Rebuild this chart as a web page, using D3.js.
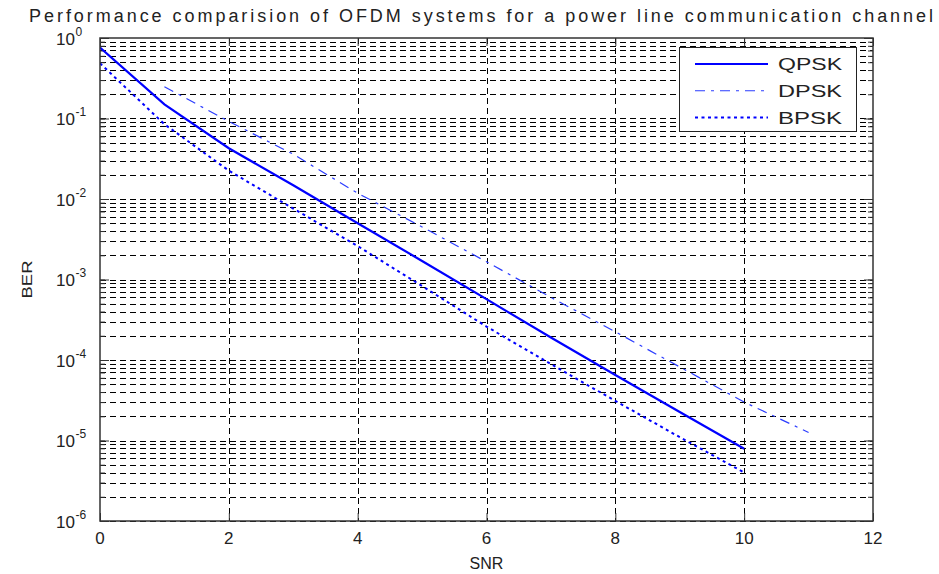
<!DOCTYPE html>
<html>
<head>
<meta charset="utf-8">
<script src="https://cdn.jsdelivr.net/npm/d3@7"></script>
<style>
  body { margin: 0; background: #fff; }
  svg { display: block; }
</style>
</head>
<body>
<div id="viz"></div>
<script>
// values
const qpskSnr = [0, 1, 2, 3, 4, 5, 6, 7, 8, 9, 10];
const qpskBer = [0.76, 0.15, 0.0427, 0.0148, 0.0050, 0.0017, 5.7e-4, 1.9e-4, 6.5e-5, 2.26e-5, 7.9e-6];

const dpskSnr = [1, 2, 3, 4, 5, 6, 7, 8, 9, 10, 11];
const dpskBer = [0.248, 0.092, 0.036, 0.0118, 0.0045, 0.00166, 6.0e-4, 2.24e-4, 8.2e-5, 3.0e-5, 1.26e-5];

const bpskSnr = [0, 1, 2, 3, 4, 5, 6, 7, 8, 9, 10];
const bpskBer = [0.485, 0.085, 0.0225, 0.0076, 0.0026, 8.3e-4, 2.6e-4, 8.9e-5, 3.1e-5, 1.1e-5, 4.0e-6];

const xTicks = [0, 2, 4, 6, 8, 10, 12];
const yExponents = [0, -1, -2, -3, -4, -5, -6];
const legendLabels = ["QPSK", "DPSK", "BPSK"];

const W = 939, H = 574;
const PLOT = { left: 100, right: 873, top: 38, bottom: 521 };
const FONT = "'Liberation Sans', Arial, Helvetica, sans-serif";
const BLUE = "#0000ff";

const svg = d3.select("#viz").append("svg")
  .attr("width", W).attr("height", H)
  .style("font-family", FONT);

svg.append("rect").attr("width", W).attr("height", H).attr("fill", "#fff");

const x = d3.scaleLinear().domain([0, 12]).range([PLOT.left, PLOT.right]);
const y = d3.scaleLog().domain([1e-6, 1]).range([PLOT.bottom, PLOT.top]);

// grid: decades plus 2..9 minors
const minorVals = [];
yExponents.forEach(e => {
  if (e === 0) return;
  for (let k = 1; k <= 9; k++) minorVals.push(k * Math.pow(10, e));
});

const grid = svg.append("g")
  .attr("stroke", "#000")
  .attr("stroke-width", 1)
  .attr("stroke-dasharray", "6,4");

grid.selectAll("line.h").data(minorVals).join("line")
  .attr("class", "h")
  .attr("x1", PLOT.left).attr("x2", PLOT.right)
  .attr("y1", d => Math.round(y(d)) + 0.5).attr("y2", d => Math.round(y(d)) + 0.5);

grid.selectAll("line.v").data(xTicks.slice(1, -1)).join("line")
  .attr("class", "v")
  .attr("x1", d => Math.round(x(d)) + 0.5).attr("x2", d => Math.round(x(d)) + 0.5)
  .attr("y1", PLOT.top).attr("y2", PLOT.bottom);

// inward ticks on all four sides
const tickStyle = g => {
  g.select(".domain").remove();
  g.selectAll("text").remove();
  g.selectAll("line").attr("stroke", "#333").attr("stroke-width", 1);
};

svg.append("g").attr("transform", `translate(0,${PLOT.bottom})`)
  .call(d3.axisBottom(x).tickValues(xTicks).tickSize(-8)).call(tickStyle);
svg.append("g").attr("transform", `translate(0,${PLOT.top})`)
  .call(d3.axisTop(x).tickValues(xTicks).tickSize(-8)).call(tickStyle);

const decadeVals = yExponents.map(e => Math.pow(10, e));
svg.append("g").attr("transform", `translate(${PLOT.left},0)`)
  .call(d3.axisLeft(y).tickValues(decadeVals).tickSize(-9)).call(tickStyle);
svg.append("g").attr("transform", `translate(${PLOT.right},0)`)
  .call(d3.axisRight(y).tickValues(decadeVals).tickSize(-9)).call(tickStyle);
svg.append("g").attr("transform", `translate(${PLOT.left},0)`)
  .call(d3.axisLeft(y).tickValues(minorVals).tickSize(-5)).call(tickStyle);
svg.append("g").attr("transform", `translate(${PLOT.right},0)`)
  .call(d3.axisRight(y).tickValues(minorVals).tickSize(-5)).call(tickStyle);

// curves
svg.append("clipPath").attr("id", "plotClip")
  .append("rect")
  .attr("x", PLOT.left).attr("y", PLOT.top)
  .attr("width", PLOT.right - PLOT.left).attr("height", PLOT.bottom - PLOT.top);

const line = d3.line().x(d => x(d[0])).y(d => y(d[1]));

const series = [
  { label: "QPSK", xs: qpskSnr, ys: qpskBer, width: 2.2, dash: null, color: BLUE },
  { label: "DPSK", xs: dpskSnr, ys: dpskBer, width: 1.2, dash: "10,6,3,6", color: "#2b3cff" },
  { label: "BPSK", xs: bpskSnr, ys: bpskBer, width: 2, dash: "3,3.5", color: BLUE }
];

const curves = svg.append("g").attr("clip-path", "url(#plotClip)");
series.forEach(s => {
  curves.append("path")
    .datum(s.xs.map((v, i) => [v, s.ys[i]]))
    .attr("d", line)
    .attr("fill", "none")
    .attr("stroke", s.color)
    .attr("stroke-width", s.width)
    .attr("stroke-dasharray", s.dash);
});

// frame
svg.append("rect")
  .attr("x", PLOT.left).attr("y", PLOT.top)
  .attr("width", PLOT.right - PLOT.left).attr("height", PLOT.bottom - PLOT.top)
  .attr("fill", "none").attr("stroke", "#333").attr("stroke-width", 1.5);

// tick labels
svg.append("g").selectAll("text").data(xTicks).join("text")
  .attr("x", d => x(d)).attr("y", 544)
  .attr("text-anchor", "middle")
  .attr("font-size", 17)
  .attr("fill", "#222")
  .text(d => d);

const yLab = svg.append("g").attr("fill", "#222");
yExponents.forEach(e => {
  const py = y(Math.pow(10, e));
  yLab.append("text")
    .attr("x", 75).attr("y", py + 6.5)
    .attr("text-anchor", "end")
    .attr("font-size", 17)
    .text("10");
  yLab.append("text")
    .attr("x", 75.5).attr("y", py - 2.5)
    .attr("font-size", 12)
    .text(e === 0 ? "0" : "-" + Math.abs(e));
});

// axis titles
svg.append("text")
  .attr("x", (PLOT.left + PLOT.right) / 2).attr("y", 569)
  .attr("text-anchor", "middle")
  .attr("font-size", 16).attr("fill", "#222")
  .text("SNR");

svg.append("text")
  .attr("transform", `translate(32,${(PLOT.top + PLOT.bottom) / 2}) rotate(-90)`)
  .attr("text-anchor", "middle")
  .attr("font-size", 14).attr("fill", "#222")
  .attr("textLength", 38).attr("lengthAdjust", "spacingAndGlyphs")
  .text("BER");

svg.append("text")
  .attr("x", 29).attr("y", 22)
  .attr("font-size", 18).attr("fill", "#222")
  .attr("textLength", 904).attr("lengthAdjust", "spacing")
  .text("Performance comparision of OFDM systems for a power line communication channel");

// legend
const legend = svg.append("g");
legend.append("rect")
  .attr("x", 679.5).attr("y", 47.5)
  .attr("width", 177).attr("height", 84)
  .attr("fill", "#fff").attr("stroke", "#222").attr("stroke-width", 1);

const legendY = d3.scalePoint().domain(legendLabels).range([64, 117.5]);
series.forEach(s => {
  const ly = legendY(s.label);
  legend.append("line")
    .attr("x1", 695).attr("x2", 768)
    .attr("y1", ly).attr("y2", ly)
    .attr("stroke", s.color)
    .attr("stroke-width", s.width)
    .attr("stroke-dasharray", s.dash);
  legend.append("text")
    .attr("x", 778).attr("y", ly + 6)
    .attr("font-size", 16).attr("fill", "#222")
    .attr("textLength", 64).attr("lengthAdjust", "spacingAndGlyphs")
    .text(s.label);
});
</script>
</body>
</html>
